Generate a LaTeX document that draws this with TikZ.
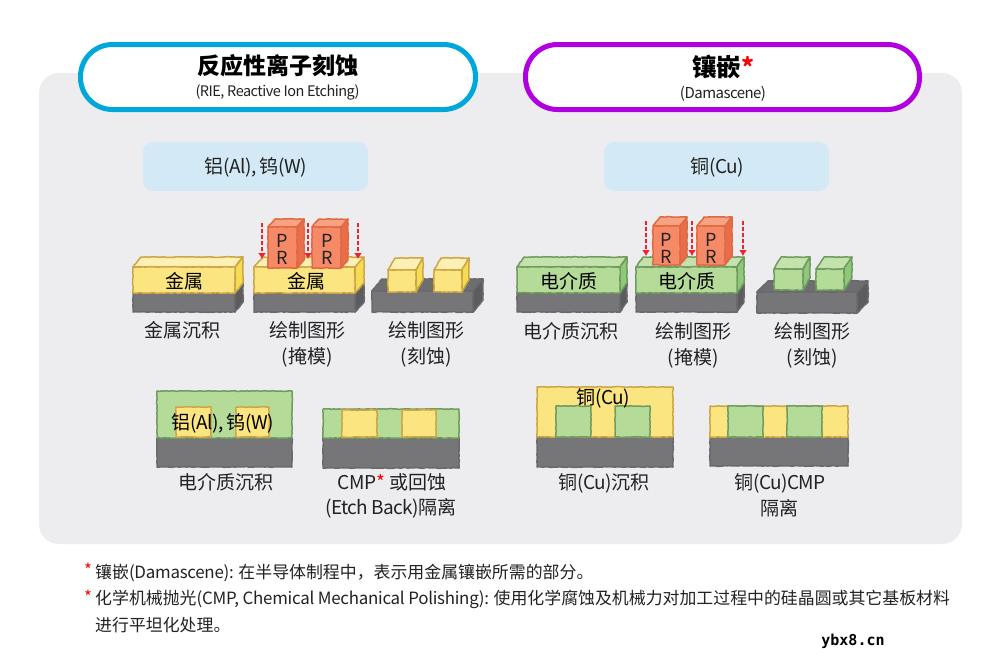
\documentclass[tikz,border=0pt]{standalone}
\usepackage{fontspec}
\usetikzlibrary{arrows.meta,decorations.pathmorphing}
\setmainfont{Noto Sans CJK SC}
\newfontfamily\tightfont{Noto Sans CJK SC}[LetterSpace=-3.5]
\newfontfamily\notefont{Noto Sans CJK SC}[LetterSpace=-1.5]
\newfontfamily\wmfont{DejaVu Sans Mono}
\newcommand{\lat}[1]{{\tightfont #1}}
\newcommand{\nlat}[1]{{\notefont #1}}
\definecolor{panelbg}{HTML}{EDEDF0}
\definecolor{riecol}{HTML}{00A7DB}
\definecolor{damcol}{HTML}{B000E0}
\definecolor{metalbox}{HTML}{D3EAF6}
\definecolor{metalfront}{HTML}{FBE580}
\definecolor{metaltop}{HTML}{FCF0B4}
\definecolor{metalside}{HTML}{F5DC55}
\definecolor{metaledge}{HTML}{CDA544}
\definecolor{dielfront}{HTML}{B5DB98}
\definecolor{dieltop}{HTML}{C4E2AB}
\definecolor{dielside}{HTML}{8FC878}
\definecolor{dieledge}{HTML}{6F9A60}
\definecolor{subfront}{HTML}{767678}
\definecolor{subtop}{HTML}{6E6E70}
\definecolor{subside}{HTML}{5C5C5E}
\definecolor{subedge}{HTML}{69696B}
\definecolor{prfront}{HTML}{F68A66}
\definecolor{prtop}{HTML}{F7A282}
\definecolor{prside}{HTML}{EA6D4B}
\definecolor{predge}{HTML}{DE6A45}
\definecolor{textcol}{HTML}{222222}
\definecolor{arrowred}{HTML}{F5202A}
\tikzset{
pill/.style={line width=5pt,fill=white,rounded corners=32pt},
metallabel/.style={fill=metalbox,rounded corners=10pt},
caption/.style={text=textcol,font=\fontsize{19}{22}\selectfont,inner sep=0pt},
inlabel/.style={text=black,font=\fontsize{19}{22}\selectfont,inner sep=0pt},
prlabel/.style={text=textcol,font=\fontsize{18}{17}\selectfont,align=center,inner sep=0pt},
note/.style={text=textcol,anchor=west,font=\fontsize{16.9}{18}\selectfont,inner sep=0pt},
prarrow/.style={arrowred,line width=1.5pt,dash pattern=on 4pt off 2pt,-{Latex[length=6pt,width=8pt]}},
rough/.style={line width=1.5pt,line join=round,decorate,decoration={random steps,segment length=2.5pt,amplitude=.35pt}},
}
% x1 y1 x2 y2 dx dy kind
\newcommand{\slab}[7]{
\draw[rough,draw=#7edge,fill=#7top] (#1,#2) -- ++(#5,-#6) -- (#3+#5,#2-#6) -- (#3,#2) -- cycle;
\draw[rough,draw=#7edge,fill=#7side] (#3,#2) -- (#3+#5,#2-#6) -- (#3+#5,#4-#6) -- (#3,#4) -- cycle;
\draw[rough,draw=#7edge,fill=#7front] (#1,#2) rectangle (#3,#4);
}
% x1 y1 x2 y2 kind
\newcommand{\flatbox}[5]{
\draw[rough,draw=#5edge,fill=#5front] (#1,#2) rectangle (#3,#4);
}
\begin{document}
\begin{tikzpicture}[x=1pt,y=-1pt]
\useasboundingbox (0,0) rectangle (1000,670);
\fill[white] (0,0) rectangle (1000,670);
\fill[panelbg,rounded corners=20pt] (39,73) rectangle (962,544);

\draw[pill,draw=riecol] (80.5,44.5) rectangle (475.5,109.5);
\draw[pill,draw=damcol] (525.5,44.5) rectangle (919.5,109.5);
\node[font=\bfseries\fontsize{23}{26}\selectfont,inner sep=0pt] (rietitle) at (277.5,66) {反应性离子刻蚀};
\node[font=\fontsize{14.5}{17}\selectfont,text=textcol,inner sep=0pt] (riesub) at (277.5,92) {\lat{(RIE, Reactive Ion Etching)}};
\node[font=\bfseries\fontsize{24.5}{26}\selectfont,inner sep=0pt] (damtitle) at (723,67) {镶嵌\textcolor{red}{*}};
\node[font=\fontsize{15}{17}\selectfont,text=textcol,inner sep=0pt] (damsub) at (723,94) {\lat{(Damascene)}};

\fill[metallabel] (143,142) rectangle (368,191);
\fill[metallabel] (604,142) rectangle (829,191);
\node[caption] (rielabel) at (256,167) {铝\lat{(Al), }钨\lat{(W)}};
\node[caption] (damlabel) at (717,167) {铜\lat{(Cu)}};

\slab{133}{293}{235}{312}{8}{10}{sub}
\slab{133}{267}{235}{293}{8}{10}{metal}
\node[inlabel] (m1) at (184,281) {金属};
\node[caption] (c1) at (182,330) {金属沉积};

\slab{254}{293}{355}{312}{9}{10}{sub}
\slab{254}{267}{355}{293}{9}{10}{metal}
\slab{268}{227}{297}{268}{7}{8}{pr}
\slab{312}{227}{341}{268}{7}{8}{pr}
\node[prlabel] (p1) at (282,249) {P\\R};
\node[prlabel] (p2) at (327,249) {P\\R};
\node[inlabel] (m2) at (306,281) {金属};
\foreach \n/\x in {1/262,2/308,3/358}{
\coordinate (s\n) at (\x,223);
\coordinate (e\n) at (\x,259);
\draw[prarrow] (s\n) -- (e\n);
}
\node[caption] (c2) at (307,330) {绘制图形};
\node[caption] (c3) at (307,357) {(掩模)};

\slab{372}{291}{473}{312}{10}{12}{sub}
\slab{388}{270}{416}{292}{7}{12}{metal}
\slab{434}{270}{462}{292}{7}{12}{metal}
\node[caption] (c4) at (426,330) {绘制图形};
\node[caption] (c5) at (426,357) {(刻蚀)};

\flatbox{157}{438}{292}{467}{sub}
\flatbox{157}{391}{292}{438}{diel}
\flatbox{176}{407}{211}{437}{metal}
\flatbox{236}{407}{269}{437}{metal}
\node[inlabel] (m3) at (223,423) {铝\lat{(Al), }钨\lat{(W)}};
\node[caption] (c6) at (226,482) {电介质沉积};

\flatbox{323}{438}{459}{468}{sub}
\flatbox{323}{409}{459}{438}{diel}
\flatbox{342}{410}{377}{437}{metal}
\flatbox{402}{410}{436}{437}{metal}
\node[caption] (c7) at (392,482) {\lat{CMP}\textcolor{red}{*} 或回蚀};
\node[caption] (c8) at (391,508) {\lat{(Etch Back)}隔离};

\slab{517}{293}{620}{312}{7}{10}{sub}
\slab{517}{267}{620}{293}{7}{10}{diel}
\node[inlabel] (d1) at (569,281) {电介质};
\node[caption] (c9) at (571,331) {电介质沉积};

\slab{636}{293}{737}{312}{7}{10}{sub}
\slab{636}{267}{737}{293}{7}{10}{diel}
\slab{653}{226}{680}{265}{7}{9}{pr}
\slab{697}{226}{725}{265}{7}{9}{pr}
\node[prlabel] (p3) at (666,248) {P\\R};
\node[prlabel] (p4) at (711,248) {P\\R};
\node[inlabel] (d2) at (687,281) {电介质};
\foreach \n/\x in {4/646,5/692,6/743}{
\coordinate (s\n) at (\x,221);
\coordinate (e\n) at (\x,256);
\draw[prarrow] (s\n) -- (e\n);
}
\node[caption] (c10) at (693,331) {绘制图形};
\node[caption] (c11) at (693,358) {(掩模)};

\slab{757}{292}{857}{313}{11}{11}{sub}
\slab{774}{269}{803}{290}{7}{12}{diel}
\slab{816}{269}{844}{290}{8}{12}{diel}
\node[caption] (c12) at (812,331) {绘制图形};
\node[caption] (c13) at (812,358) {(刻蚀)};

\flatbox{537}{437}{673}{467}{sub}
\flatbox{537}{387}{673}{437}{metal}
\flatbox{556}{406}{591}{437}{diel}
\flatbox{615}{406}{650}{437}{diel}
\node[inlabel] (m4) at (603,398) {铜\lat{(Cu)}};
\node[caption] (c14) at (604,483) {铜\lat{(Cu)}沉积};

\flatbox{710}{437}{848}{466}{sub}
\flatbox{710}{406}{848}{437}{metal}
\flatbox{728}{406}{763}{437}{diel}
\flatbox{787}{406}{822}{437}{diel}
\node[caption] (c15) at (780,483) {铜\lat{(Cu)CMP}};
\node[caption] (c16) at (779,508) {隔离};

\node[note,text=red] (star1) at (84,570) {*};
\node[note] (note1) at (95,573) {镶嵌\nlat{(Damascene): }在半导体制程中，表示用金属镶嵌所需的部分。};
\node[note,text=red] (star2) at (84,597) {*};
\node[note] (note2) at (95,599) {化学机械抛光\nlat{(CMP, Chemical Mechanical Polishing): }使用化学腐蚀及机械力对加工过程中的硅晶圆或其它基板材料};
\node[note] (note3) at (95,625) {进行平坦化处理。};
\node[font=\wmfont\bfseries\fontsize{15}{16}\selectfont,inner sep=0pt] (mark) at (853,641) {ybx8.cn};
\end{tikzpicture}
\end{document}
